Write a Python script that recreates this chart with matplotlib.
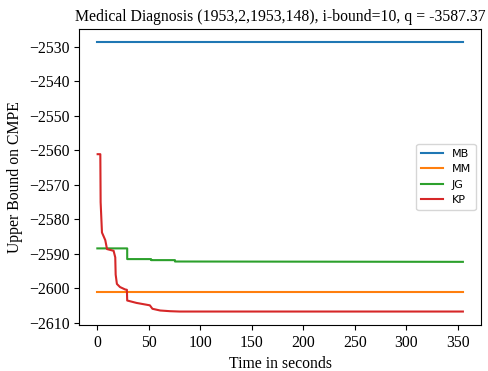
import matplotlib
matplotlib.use("Agg")
import matplotlib.pyplot as plt

plt.rcParams["font.family"] = ["Liberation Serif", "DejaVu Serif"]

T_END = 355

# anytime upper bounds (time in seconds, bound)
mb_t = [0, T_END]
mb_v = [-2528.7, -2528.7]

mm_t = [0, T_END]
mm_v = [-2601.0, -2601.0]

jg_t = [0, 29.0, 29.0, 52.2, 52.2, 75.4, 75.4, T_END]
jg_v = [-2588.4, -2588.4, -2591.5, -2591.5, -2591.8, -2591.8, -2592.2, -2592.3]

kp_t = [0.3, 2.9, 3.2, 4.5, 7.7, 9.4, 15.8, 17.4, 17.8, 19.0, 22.0, 27.0, 28.7, 29.0,
        38.0, 51.0, 53.5, 61.0, 70.6, 80.0, T_END]
kp_v = [-2561.1, -2561.1, -2575.0, -2583.8, -2586.0, -2588.6, -2589.1, -2591.0,
        -2596.0, -2598.7, -2599.6, -2600.3, -2600.4, -2603.5,
        -2604.2, -2604.9, -2605.9, -2606.4, -2606.6, -2606.7, -2606.7]

FS = 11.3


def main():
    fig = plt.figure(figsize=(4.88, 3.71), dpi=100)
    ax = fig.add_axes([0.162, 0.124, 0.824, 0.798])

    ax.plot(mb_t, mb_v, label="MB")
    ax.plot(mm_t, mm_v, label="MM")
    ax.plot(jg_t, jg_v, label="JG")
    ax.plot(kp_t, kp_v, label="KP")

    ax.set_title("Medical Diagnosis (1953,2,1953,148), i-bound=10, q = -3587.37", fontsize=FS)
    ax.set_xlabel("Time in seconds", fontsize=FS)
    ax.set_ylabel("Upper Bound on CMPE", fontsize=FS)
    ax.tick_params(labelsize=FS)
    ax.legend(loc="center right", prop={"family": "DejaVu Sans", "size": 8})

    fig.savefig("out.png", dpi=100)


if __name__ == "__main__":
    main()
